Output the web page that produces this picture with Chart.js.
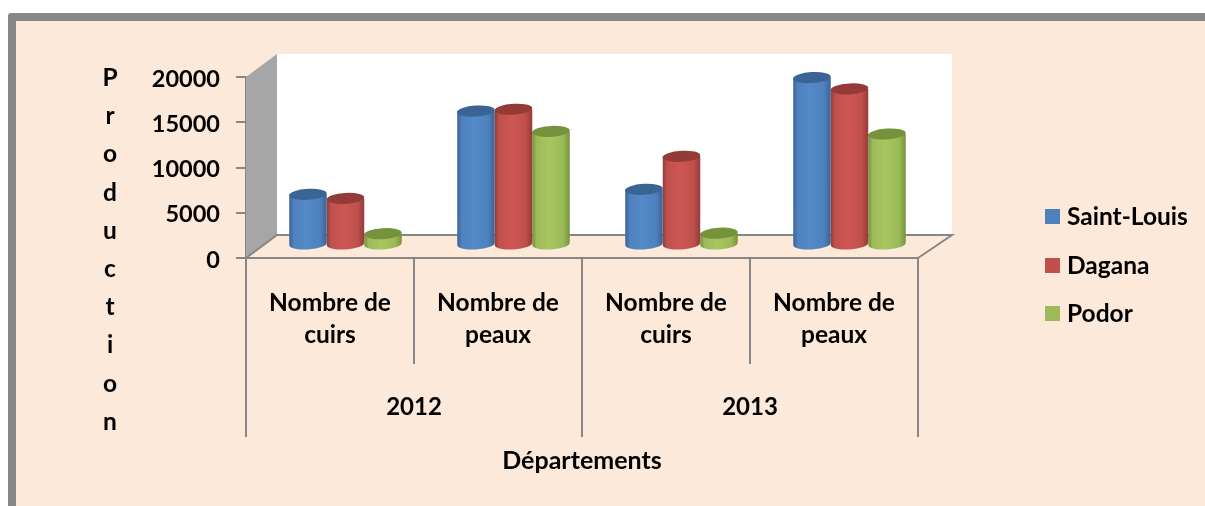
<!DOCTYPE html>
<html><head><meta charset="utf-8">
<script src="https://cdn.jsdelivr.net/npm/chart.js@4"></script>
<style>
html,body{margin:0;padding:0;background:#fff;overflow:hidden}
#wrap{position:relative;width:1205px;height:506px;overflow:hidden}
#frame{position:absolute;left:8px;top:13px;width:1300px;height:600px;box-sizing:border-box;border:8px solid #878787;border-radius:3px;background:#FDE9DA}
canvas{position:absolute;left:0;top:0}
</style></head><body>
<div id="wrap"><div id="frame"></div><canvas id="c" width="1205" height="506"></canvas></div>
<script>
const categories = [["Nombre de","cuirs"],["Nombre de","peaux"],["Nombre de","cuirs"],["Nombre de","peaux"]];
const years = ["2012","2013"];
const saintLouis = [5600,14800,6150,18500];
const dagana = [5150,15000,9800,17250];
const podor = [1250,12550,1300,12265];
const yTicks = [0,5000,10000,15000,20000];
const yTitle = "Production";
const xTitle = "Départements";

const FONT = 'Lato, Carlito, sans-serif';
const FS = 24.5;
const GRAY = '#868686';
const DX = 15.5, DY = -13, RY = 5.5, WALL = {x:31, y:-23};
const LIGHT = {'#4F81BD':'#548ACA','#C0504D':'#CD5653','#9BBB59':'#A6C85F'};

class CylinderElement extends Chart.BarElement {
  draw(ctx){
    const {x,y,base,width} = this.getProps(['x','y','base','width']);
    const o = this.options, l = x-width/2+DX, r = x+width/2+DX, cx = x+DX, rx = width/2;
    const top = y+DY, bot = base+DY;
    const g = ctx.createLinearGradient(l,0,r,0);
    g.addColorStop(0,o.borderColor); g.addColorStop(.12,o.backgroundColor);
    g.addColorStop(.45,LIGHT[o.backgroundColor]); g.addColorStop(.82,o.backgroundColor);
    g.addColorStop(1,o.borderColor);
    ctx.save();
    const tilt = -3.5*Math.PI/180;
    ctx.fillStyle = g;
    ctx.beginPath();
    ctx.ellipse(cx,bot,rx,RY,tilt,0,Math.PI);
    ctx.lineTo(l,top);
    ctx.lineTo(r,top);
    ctx.closePath();
    ctx.fill();
    ctx.fillStyle = o.borderColor;
    ctx.beginPath();
    ctx.ellipse(cx,top,rx,RY,tilt,0,Math.PI*2);
    ctx.fill();
    ctx.restore();
  }
}
CylinderElement.id = 'cylinder';
CylinderElement.defaults = Chart.BarElement.defaults;
class CylinderController extends Chart.BarController {}
CylinderController.id = 'cylinderBar';
CylinderController.defaults = Object.assign({}, Chart.BarController.defaults, {dataElementType:'cylinder'});
CylinderController.overrides = Chart.BarController.overrides;
Chart.register(CylinderElement, CylinderController);

const scene = {
  id:'scene',
  afterLayout(chart){
    const s = chart.scales.y;
    s.getLabelItems(chart.chartArea).forEach(i=>{ i.options.translation[1]+=2; });
  },
  beforeDatasetsDraw(chart){
    const {ctx,chartArea:a} = chart;
    const bx=a.left+WALL.x, by=a.top+WALL.y, fy=a.bottom+WALL.y;
    ctx.save();
    ctx.fillStyle='#fff';
    ctx.fillRect(bx,by,a.right+WALL.x+3-bx,fy-by);
    ctx.fillStyle='#A6A6A6';
    ctx.beginPath();
    ctx.moveTo(a.left,a.top);ctx.lineTo(bx,by);ctx.lineTo(bx,fy);ctx.lineTo(a.left,a.bottom);
    ctx.closePath();ctx.fill();
    ctx.strokeStyle=GRAY;ctx.lineWidth=2;
    ctx.beginPath();
    ctx.moveTo(a.left,a.bottom);ctx.lineTo(bx,fy);ctx.lineTo(a.right+WALL.x+3,fy);ctx.lineTo(a.right,a.bottom);
    ctx.stroke();
    ctx.restore();
  },
  afterDraw(chart){
    const ctx = chart.ctx;
    ctx.save();
    ctx.fillStyle='#000';
    ctx.font='bold '+FS+'px '+FONT;
    ctx.textAlign='center';ctx.textBaseline='middle';
    [...yTitle].forEach((ch,i)=>ctx.fillText(ch,110,78+i*38.2));
    ctx.textAlign='left';
    chart.data.datasets.forEach((d,i)=>{
      const y=[209,258,306][i];
      ctx.fillStyle=d.backgroundColor;
      ctx.fillRect(1045,y,15,15);
      ctx.fillStyle='#000';
      ctx.fillText(d.label,1067,y+8);
    });
    ctx.restore();
  }
};

function ds(label,data,c,dark){
  return {label,data,backgroundColor:c,borderColor:dark,clip:false,
    categoryPercentage:.67,barPercentage:1};
}
new Chart(document.getElementById('c'),{
  type:'cylinderBar',
  data:{labels:categories,datasets:[
    ds('Saint-Louis',saintLouis,'#4F81BD','#3A6494'),
    ds('Dagana',dagana,'#C0504D','#943B38'),
    ds('Podor',podor,'#9BBB59','#76923C')
  ]},
  plugins:[scene],
  options:{
    responsive:false,animation:false,
    layout:{padding:{left:0,right:287,top:77,bottom:30}},
    plugins:{legend:{display:false},tooltip:{enabled:false},title:{display:false}},
    scales:{
      y:{min:0,max:20000,
        afterBuildTicks(s){s.ticks=yTicks.map(v=>({value:v}));},
        afterFit(s){s.width=246;},
        border:{color:GRAY,width:2},
        grid:{drawOnChartArea:false,color:GRAY,lineWidth:2,tickLength:10},
        ticks:{color:'#000',font:{family:FONT,size:23.5,weight:'bold'},padding:16,callback:v=>String(v)}
      },
      x:{weight:0,offset:true,
        afterFit(s){s.height=106;},
        border:{color:GRAY,width:2},
        grid:{offset:true,drawOnChartArea:false,color:GRAY,lineWidth:2,tickLength:106},
        ticks:{color:'#000',autoSkip:false,maxRotation:0,font:{family:FONT,size:FS,weight:'bold',lineHeight:1.3},padding:-77},
      },
      x2:{type:'category',position:'bottom',weight:1,labels:years,offset:true,
        afterFit(s){s.height=112;},
        border:{display:false},
        grid:{offset:true,drawOnChartArea:false,color:GRAY,lineWidth:2,tickLength:73},
        ticks:{color:'#000',autoSkip:false,maxRotation:0,font:{family:FONT,size:24,weight:'bold'},padding:-44},
        title:{display:true,text:xTitle,color:'#000',font:{family:FONT,size:25,weight:'bold'},padding:{top:0,bottom:0}}
      }
    }
  }
});
</script></body></html>
